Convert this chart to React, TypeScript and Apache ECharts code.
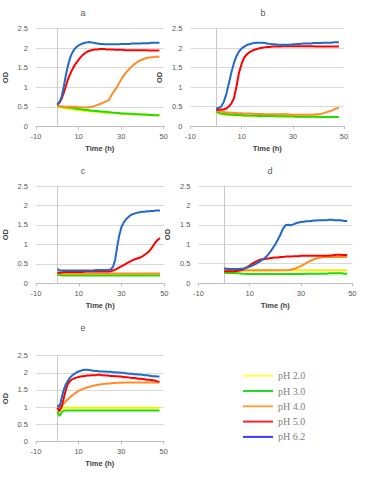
import React, { useEffect, useRef } from "react";
import * as echarts from "echarts";

const HOURS = [0,1,2,3,4,5,6,7,8,9,10,11,12,13,14,15,16,17,18,19,20,21,22,23,24,25,26,27,28,29,30,31,32,33,34,35,36,37,38,39,40,41,42,43,44,45,46,47,48];

const SERIES_NAMES = ["pH 2.0", "pH 3.0", "pH 4.0", "pH 5.0", "pH 6.2"];
const LINE_COLORS = ["#f2f200", "#22dd00", "#ff8c26", "#ff0000", "#2069c8"];
const LEGEND_COLORS = ["#ffff44", "#22dd22", "#ffa040", "#ff2222", "#3a3aff"];
const PANEL_TITLES = ["a", "b", "c", "d", "e"];
const X_TICKS = [-10, 10, 30, 50];
const Y_TICKS = [0, 0.5, 1, 1.5, 2, 2.5];

// Panel a
const yellowA = [0.5,0.49,0.48,0.47,0.46,0.45,0.45,0.44,0.43,0.42,0.42,0.41,0.4,0.4,0.39,0.39,0.38,0.38,0.37,0.37,0.36,0.36,0.35,0.35,0.35,0.34,0.34,0.34,0.33,0.33,0.33,0.32,0.32,0.32,0.31,0.31,0.31,0.3,0.3,0.3,0.3,0.29,0.29,0.29,0.29,0.28,0.28,0.28,0.28];
const greenA = [0.52,0.51,0.5,0.5,0.49,0.48,0.48,0.47,0.46,0.45,0.44,0.44,0.43,0.42,0.42,0.41,0.4,0.4,0.39,0.39,0.38,0.38,0.37,0.37,0.36,0.36,0.35,0.35,0.34,0.34,0.33,0.33,0.33,0.32,0.32,0.32,0.31,0.31,0.31,0.3,0.3,0.3,0.3,0.29,0.29,0.29,0.28,0.28,0.28];
const orangeA = [0.52,0.51,0.51,0.5,0.5,0.5,0.5,0.5,0.5,0.5,0.49,0.49,0.48,0.48,0.48,0.49,0.5,0.51,0.53,0.55,0.57,0.59,0.62,0.64,0.66,0.75,0.85,0.92,1.0,1.1,1.2,1.28,1.36,1.42,1.48,1.53,1.58,1.62,1.66,1.69,1.71,1.73,1.75,1.76,1.77,1.77,1.78,1.78,1.78];
const redA = [0.55,0.6,0.7,0.85,1.02,1.2,1.33,1.45,1.55,1.63,1.7,1.77,1.83,1.87,1.91,1.93,1.95,1.96,1.97,1.97,1.98,1.98,1.98,1.97,1.97,1.97,1.97,1.96,1.96,1.96,1.96,1.96,1.95,1.95,1.95,1.95,1.95,1.95,1.95,1.95,1.95,1.95,1.95,1.94,1.94,1.94,1.94,1.94,1.94];
const blueA = [0.57,0.62,0.75,1.0,1.3,1.55,1.75,1.88,1.97,2.03,2.07,2.1,2.12,2.14,2.15,2.16,2.15,2.14,2.13,2.12,2.11,2.11,2.1,2.1,2.1,2.1,2.1,2.1,2.1,2.1,2.11,2.11,2.11,2.11,2.11,2.12,2.12,2.12,2.12,2.12,2.13,2.13,2.13,2.13,2.14,2.14,2.14,2.14,2.14];

// Panel b
const yellowB = [0.35,0.33,0.31,0.3,0.29,0.29,0.28,0.28,0.27,0.27,0.26,0.26,0.26,0.26,0.26,0.26,0.25,0.25,0.25,0.25,0.25,0.25,0.25,0.25,0.25,0.25,0.25,0.24,0.24,0.24,0.24,0.24,0.24,0.24,0.24,0.24,0.24,0.24,0.24,0.24,0.24,0.23,0.23,0.23,0.23,0.23,0.23,0.23,0.23];
const greenB = [0.37,0.34,0.32,0.31,0.3,0.3,0.29,0.29,0.28,0.28,0.28,0.27,0.27,0.27,0.27,0.27,0.26,0.26,0.26,0.26,0.26,0.26,0.26,0.25,0.25,0.25,0.25,0.25,0.25,0.25,0.25,0.24,0.24,0.24,0.24,0.24,0.24,0.24,0.24,0.24,0.24,0.23,0.23,0.23,0.23,0.23,0.23,0.23,0.23];
const orangeB = [0.4,0.38,0.37,0.36,0.35,0.35,0.34,0.34,0.33,0.33,0.33,0.32,0.32,0.32,0.32,0.31,0.31,0.31,0.31,0.3,0.3,0.3,0.3,0.3,0.3,0.3,0.3,0.3,0.3,0.29,0.29,0.29,0.29,0.29,0.29,0.29,0.29,0.29,0.29,0.3,0.3,0.31,0.33,0.35,0.37,0.39,0.42,0.45,0.47];
const redB = [0.42,0.42,0.42,0.43,0.45,0.5,0.58,0.72,1.02,1.38,1.6,1.76,1.84,1.89,1.93,1.96,1.98,2.0,2.01,2.02,2.03,2.03,2.04,2.04,2.04,2.04,2.05,2.05,2.05,2.05,2.05,2.05,2.05,2.05,2.05,2.05,2.05,2.05,2.05,2.04,2.04,2.04,2.04,2.04,2.04,2.04,2.04,2.04,2.04];
const blueB = [0.45,0.46,0.5,0.62,0.82,1.1,1.38,1.62,1.8,1.92,1.99,2.04,2.08,2.1,2.12,2.13,2.14,2.14,2.14,2.13,2.12,2.11,2.1,2.1,2.09,2.09,2.09,2.09,2.09,2.09,2.1,2.1,2.11,2.11,2.12,2.12,2.12,2.12,2.13,2.13,2.13,2.13,2.14,2.14,2.14,2.14,2.15,2.15,2.15];

// Panel c
const yellowC = [0.24,0.23,0.22,0.22,0.22,0.22,0.22,0.22,0.22,0.22,0.22,0.22,0.22,0.22,0.22,0.22,0.22,0.22,0.22,0.22,0.22,0.22,0.22,0.22,0.22,0.22,0.22,0.22,0.22,0.22,0.22,0.22,0.22,0.22,0.22,0.22,0.22,0.22,0.22,0.22,0.22,0.22,0.22,0.22,0.22,0.22,0.22,0.22,0.22];
const greenC = [0.22,0.21,0.2,0.2,0.2,0.2,0.2,0.2,0.2,0.2,0.2,0.2,0.2,0.2,0.2,0.2,0.2,0.2,0.2,0.2,0.2,0.2,0.2,0.2,0.2,0.2,0.2,0.2,0.2,0.2,0.2,0.2,0.2,0.2,0.2,0.2,0.2,0.2,0.2,0.2,0.2,0.2,0.2,0.2,0.2,0.2,0.2,0.2,0.2];
const orangeC = [0.27,0.26,0.25,0.25,0.25,0.25,0.25,0.25,0.25,0.25,0.25,0.25,0.25,0.25,0.25,0.25,0.25,0.25,0.25,0.25,0.25,0.25,0.25,0.25,0.25,0.25,0.25,0.25,0.25,0.25,0.25,0.25,0.25,0.25,0.25,0.25,0.25,0.25,0.25,0.25,0.25,0.25,0.25,0.25,0.25,0.25,0.25,0.25,0.25];
const redC = [0.28,0.27,0.28,0.29,0.29,0.29,0.29,0.29,0.29,0.29,0.29,0.29,0.29,0.3,0.3,0.3,0.3,0.3,0.3,0.3,0.3,0.3,0.3,0.3,0.3,0.31,0.33,0.35,0.38,0.41,0.44,0.47,0.5,0.53,0.56,0.59,0.61,0.63,0.65,0.67,0.7,0.74,0.78,0.83,0.9,0.98,1.06,1.12,1.16];
const blueC = [0.37,0.33,0.33,0.33,0.33,0.33,0.33,0.33,0.33,0.33,0.33,0.33,0.33,0.33,0.33,0.33,0.33,0.33,0.34,0.34,0.34,0.34,0.34,0.34,0.34,0.36,0.42,0.6,0.95,1.25,1.45,1.56,1.64,1.69,1.74,1.77,1.79,1.81,1.82,1.83,1.84,1.84,1.85,1.85,1.86,1.86,1.87,1.87,1.87];

// Panel d
const yellowD = [0.3,0.3,0.31,0.31,0.31,0.32,0.32,0.32,0.32,0.32,0.32,0.32,0.32,0.32,0.32,0.32,0.32,0.32,0.32,0.32,0.33,0.33,0.33,0.33,0.33,0.33,0.33,0.33,0.33,0.33,0.33,0.33,0.33,0.33,0.33,0.33,0.33,0.33,0.33,0.33,0.33,0.33,0.33,0.33,0.33,0.33,0.33,0.33,0.33];
const greenD = [0.27,0.26,0.26,0.26,0.26,0.25,0.25,0.24,0.24,0.23,0.23,0.23,0.23,0.23,0.23,0.23,0.23,0.23,0.23,0.23,0.23,0.23,0.23,0.23,0.23,0.23,0.23,0.23,0.23,0.23,0.23,0.23,0.24,0.24,0.24,0.24,0.24,0.24,0.24,0.24,0.24,0.25,0.25,0.25,0.25,0.25,0.25,0.24,0.24];
const orangeD = [0.35,0.34,0.34,0.34,0.34,0.33,0.33,0.33,0.33,0.33,0.33,0.33,0.33,0.33,0.33,0.33,0.33,0.33,0.33,0.33,0.33,0.33,0.33,0.33,0.33,0.33,0.34,0.36,0.38,0.41,0.44,0.47,0.51,0.55,0.58,0.61,0.63,0.65,0.66,0.67,0.67,0.67,0.67,0.67,0.67,0.67,0.67,0.67,0.67];
const redD = [0.3,0.3,0.3,0.3,0.3,0.31,0.32,0.34,0.37,0.41,0.45,0.5,0.54,0.57,0.6,0.61,0.62,0.63,0.64,0.65,0.66,0.66,0.67,0.67,0.68,0.68,0.68,0.69,0.69,0.69,0.7,0.7,0.7,0.7,0.7,0.7,0.7,0.7,0.7,0.7,0.7,0.71,0.71,0.72,0.73,0.73,0.72,0.72,0.72];
const blueD = [0.38,0.37,0.36,0.36,0.36,0.36,0.36,0.37,0.38,0.4,0.42,0.45,0.48,0.52,0.56,0.6,0.65,0.72,0.8,0.9,1.0,1.12,1.25,1.4,1.49,1.5,1.49,1.51,1.54,1.56,1.57,1.58,1.59,1.59,1.6,1.61,1.61,1.62,1.62,1.62,1.62,1.63,1.63,1.62,1.62,1.62,1.61,1.6,1.6];

// Panel e
const yellowE = [0.97,0.9,0.96,0.98,0.98,0.98,0.98,0.98,0.98,0.98,0.98,0.98,0.98,0.98,0.98,0.98,0.98,0.98,0.98,0.98,0.98,0.98,0.98,0.98,0.98,0.98,0.98,0.98,0.98,0.98,0.98,0.98,0.98,0.98,0.98,0.98,0.98,0.98,0.98,0.98,0.98,0.98,0.98,0.98,0.98,0.98,0.98,0.98,0.98];
const greenE = [0.87,0.74,0.84,0.89,0.9,0.9,0.9,0.9,0.9,0.9,0.9,0.9,0.9,0.9,0.9,0.9,0.9,0.9,0.9,0.9,0.9,0.9,0.9,0.9,0.9,0.9,0.9,0.9,0.9,0.9,0.9,0.9,0.9,0.9,0.9,0.9,0.9,0.9,0.9,0.9,0.9,0.9,0.9,0.9,0.9,0.9,0.9,0.9,0.9];
const orangeE = [1.0,0.93,1.02,1.1,1.17,1.23,1.29,1.34,1.39,1.43,1.47,1.5,1.53,1.55,1.57,1.59,1.61,1.62,1.64,1.65,1.66,1.67,1.68,1.68,1.69,1.69,1.7,1.7,1.71,1.71,1.71,1.72,1.72,1.72,1.72,1.72,1.72,1.72,1.72,1.72,1.72,1.72,1.72,1.72,1.72,1.72,1.72,1.72,1.72];
const redE = [0.98,0.88,1.0,1.25,1.5,1.68,1.76,1.81,1.84,1.86,1.88,1.89,1.9,1.91,1.92,1.92,1.93,1.93,1.93,1.94,1.94,1.93,1.93,1.92,1.92,1.91,1.91,1.9,1.9,1.89,1.89,1.88,1.87,1.87,1.86,1.85,1.85,1.84,1.83,1.83,1.82,1.81,1.8,1.8,1.79,1.78,1.77,1.75,1.74];
const blueE = [1.06,1.0,1.25,1.5,1.66,1.77,1.86,1.92,1.97,2.01,2.04,2.06,2.08,2.09,2.09,2.08,2.07,2.06,2.05,2.05,2.04,2.04,2.04,2.03,2.03,2.03,2.02,2.02,2.01,2.01,2.0,2.0,1.99,1.98,1.97,1.97,1.96,1.96,1.95,1.95,1.94,1.93,1.93,1.92,1.91,1.9,1.9,1.89,1.89];

const PANELS = [
  [yellowA, greenA, orangeA, redA, blueA],
  [yellowB, greenB, orangeB, redB, blueB],
  [yellowC, greenC, orangeC, redC, blueC],
  [yellowD, greenD, orangeD, redD, blueD],
  [yellowE, greenE, orangeE, redE, blueE],
];

// layout (pixels)
const GRIDS = [
  { left: 10.1, top: 28.7, width: 153.6, height: 97.6 },
  { left: 190.5, top: 28.7, width: 153.5, height: 97.3 },
  { left: 9.9, top: 186, width: 154.4, height: 97.3 },
  { left: 198.4, top: 186, width: 153.9, height: 97 },
  { left: 10.7, top: 355.7, width: 153, height: 85.6 },
];
const TITLE_POS = [[83, 12.5], [263, 12.5], [83, 171], [270, 170.5], [83, 327.5]];

export default function App() {
  const ref = useRef<HTMLDivElement>(null);
  useEffect(() => {
    if (!ref.current) return;
    const chart = echarts.init(ref.current, undefined, { renderer: "svg" });
    const font = "Liberation Sans";
    const grid = GRIDS.map((g) => ({ ...g, containLabel: false }));
    const xAxis = GRIDS.map((_, i) => ({
      gridIndex: i,
      type: "value",
      min: X_TICKS[0],
      max: X_TICKS[X_TICKS.length - 1],
      interval: 20,
      axisLine: { show: true, onZero: true, lineStyle: { color: "#bfbfbf", width: 1 } },
      axisTick: { show: true, length: 3, lineStyle: { color: "#bfbfbf" } },
      splitLine: { show: false },
      axisLabel: { fontSize: 7.5, color: "#595959", margin: 6, fontFamily: font },
      name: "Time (h)",
      nameLocation: "middle",
      nameGap: 18,
      nameTextStyle: { fontSize: 7.5, fontWeight: "bold", color: "#404040", fontFamily: font },
    }));
    const yAxis = GRIDS.map((_, i) => ({
      gridIndex: i,
      type: "value",
      min: Y_TICKS[0],
      max: Y_TICKS[Y_TICKS.length - 1],
      interval: 0.5,
      axisLine: { show: true, onZero: true, lineStyle: { color: "#c8c8c8", width: 1 } },
      axisTick: { show: false },
      splitLine: { show: true, lineStyle: { color: "#d9d9d9", width: 1 } },
      axisLabel: { fontSize: 7.5, color: "#595959", margin: 8, fontFamily: font },
      name: "OD",
      nameLocation: "middle",
      nameGap: 27,
      nameTextStyle: { fontSize: 7.5, fontWeight: "bold", color: "#404040", fontFamily: font },
    }));
    const series: any[] = [];
    PANELS.forEach((panel, i) => {
      panel.forEach((vals, c) => {
        series.push({
          type: "line",
          name: SERIES_NAMES[c],
          xAxisIndex: i,
          yAxisIndex: i,
          data: HOURS.map((h, k) => [h, vals[k]]),
          showSymbol: false,
          symbol: "none",
          smooth: false,
          lineStyle: { width: 2, color: LINE_COLORS[c] },
          itemStyle: { color: LINE_COLORS[c] },
          z: 2 + c,
        });
      });
    });
    const graphic = PANEL_TITLES.map((t, i) => ({
      type: "text",
      x: TITLE_POS[i][0],
      y: TITLE_POS[i][1],
      style: {
        text: t,
        fill: "#595959",
        fontSize: 9,
        fontFamily: font,
        align: "center",
        verticalAlign: "middle",
      },
    }));
    chart.setOption({
      animation: false,
      backgroundColor: "#ffffff",
      grid,
      xAxis,
      yAxis,
      series,
      graphic,
      legend: {
        orient: "vertical",
        left: 243,
        top: 370.7,
        padding: 0,
        itemWidth: 30,
        itemHeight: 2,
        itemGap: 5.3,
        selectedMode: false,
        textStyle: { fontFamily: "Liberation Serif", fontSize: 10, color: "#808080" },
        data: SERIES_NAMES.map((n, c) => ({
          name: n,
          icon: "rect",
          itemStyle: { color: LEGEND_COLORS[c] },
        })),
      },
    });
    return () => chart.dispose();
  }, []);
  return (
    <div
      ref={ref}
      style={{ position: "absolute", left: 0, top: 0, width: 369, height: 481 }}
    />
  );
}
